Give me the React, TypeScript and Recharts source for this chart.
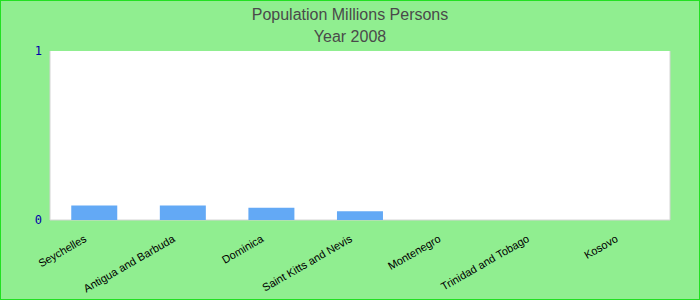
import React from 'react';
import { BarChart, Bar, XAxis, YAxis, CartesianGrid } from 'recharts';

const countries = [
  'Seychelles',
  'Antigua and Barbuda',
  'Dominica',
  'Saint Kitts and Nevis',
  'Montenegro',
  'Trinidad and Tobago',
  'Kosovo',
];
const population: (number | null)[] = [0.086, 0.086, 0.072, 0.052, null, null, null];
const yTicks = [0, 1];

const data = countries.map((name, i) => ({ name, value: population[i] }));

const CountryTick = ({ x, y, payload }: any) => (
  <text
    x={x - 7}
    y={y + 13}
    transform={`rotate(-30, ${x - 7}, ${y + 13})`}
    textAnchor="end"
    fontSize={11}
    fontFamily="'Liberation Sans', Arial, sans-serif"
    fill="#000"
  >
    {payload.value}
  </text>
);

export default function App() {
  return (
    <div
      style={{
        position: 'absolute',
        left: 0,
        top: 0,
        width: 700,
        height: 300,
        boxSizing: 'border-box',
        border: '1px solid #22e022',
        background: '#90ee90',
      }}
    >
      <div
        style={{
          position: 'absolute',
          left: 0,
          top: 3,
          width: '100%',
          textAlign: 'center',
          fontFamily: "'Liberation Sans Narrow', 'Arial Narrow', sans-serif",
          fontSize: 16,
          color: '#4a4a4a',
          lineHeight: '22px',
        }}
      >
        <div>Population Millions Persons</div>
        <div>Year 2008</div>
      </div>
      <div style={{ position: 'absolute', left: -1, top: -1 }}>
        <BarChart
          width={700}
          height={300}
          data={data}
          margin={{ top: 51, right: 30, bottom: 50, left: 0 }}
          barCategoryGap="24%"
        >
          <CartesianGrid
            fill="#ffffff"
            stroke="#d4d4d4"
            verticalCoordinatesGenerator={({ offset }: any) => [offset.left, offset.left + offset.width]}
            horizontalCoordinatesGenerator={({ offset }: any) => [offset.top + offset.height]}
          />
          <XAxis
            dataKey="name"
            axisLine={false}
            tickLine={false}
            interval={0}
            tick={<CountryTick />}
          />
          <YAxis
            width={50}
            domain={[0, 1]}
            ticks={yTicks}
            axisLine={false}
            tickLine={false}
            tick={{ fill: '#0000aa', fontSize: 12, fontFamily: "'DejaVu Sans Mono', monospace" }}
          />
          <Bar dataKey="value" fill="#63a9f5" isAnimationActive={false} />
        </BarChart>
      </div>
    </div>
  );
}
